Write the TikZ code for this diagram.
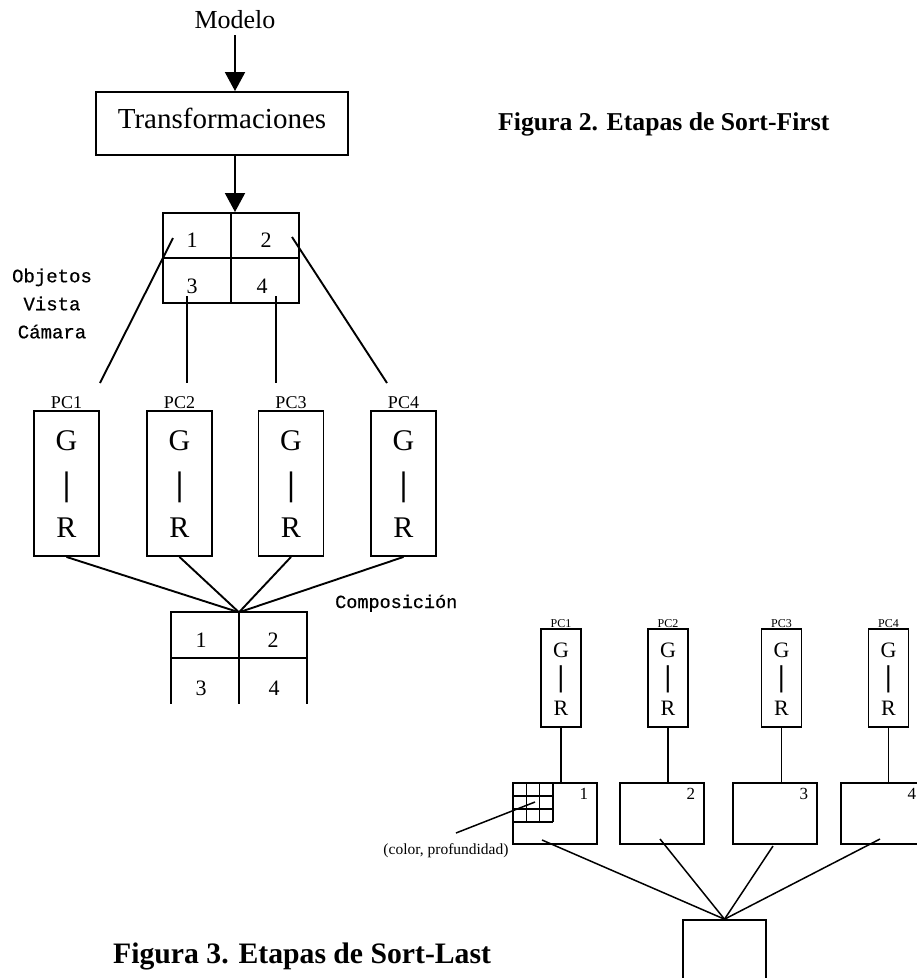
\documentclass[tikz,border=0pt]{standalone}
\usepackage{fontspec}
\setmainfont{Liberation Serif}
\newfontfamily\monof[FakeBold=0.6]{Liberation Mono}
\usetikzlibrary{arrows.meta,calc}
\newcommand\fsz[1]{\fontsize{#1}{#1}\selectfont}
\begin{document}
\begin{tikzpicture}[x=1pt,y=-1pt,
  box/.style={draw, line width=1.9pt, inner sep=0pt},
  sbox/.style={draw, line width=1.6pt, inner sep=0pt},
  txt/.style={inner sep=0pt, anchor=base},
  conn/.style={line width=1.9pt},
  sconn/.style={line width=1.5pt},
  arr/.style={line width=1.9pt, -{Triangle[width=20pt,length=19pt]}},
]
\useasboundingbox (0,0) rectangle (917,978);
\clip (0,0) rectangle (917,978);

% ---------- Figure 2 ----------
\node[txt, font=\fsz{26}] (modelo) at (235,28) {Modelo};
\node[box, minimum width=252pt, minimum height=63pt, text height=20pt, text depth=11pt, font=\fsz{29}] (trans) at (222,123.5) {Transformaciones};
\node[box, minimum width=136pt, minimum height=90pt] (g) at (231,258) {};
\draw[conn] (g.north) -- (g.south);
\draw[conn] (g.west) -- (g.east);
\draw[arr] ([yshift=-7pt]modelo.south) -- (modelo.south |- trans.north);
\draw[arr] (trans.south -| modelo) -- (g.north -| modelo);

\node[txt, font=\fsz{22}] (g1) at (192,247) {1};
\node[txt, font=\fsz{22}] (g2) at (266,247) {2};
\node[txt, font=\fsz{22}] (g3) at (192,293) {3};
\node[txt, font=\fsz{22}] (g4) at (262,293) {4};

\node[inner sep=0pt, align=center, font=\monof\fontsize{19}{28}\selectfont] (obj) at (52,303.5) {Objetos\\Vista\\Cámara};

\coordinate (s1) at (173,238);
\coordinate (s2) at (292,237);
\coordinate (s3) at (187,296);
\coordinate (s4) at (276,296);
\coordinate (e1) at (100,383);
\coordinate (e2) at (187,383);
\coordinate (e3) at (276,383);
\coordinate (e4) at (387,383);
\draw[conn] (s1) -- (e1);
\draw[conn] (s3) -- (e2);
\draw[conn] (s4) -- (e3);
\draw[conn] (s2) -- (e4);

\node[inner sep=0pt, minimum width=136pt, minimum height=91pt] (comp) at (239,658) {};
\draw[conn] (comp.south west) -- (comp.north west) -- (comp.north east) -- (comp.south east);
\draw[conn] (comp.north) -- (comp.south);
\draw[conn] (comp.west) -- (comp.east);
\node[txt, font=\fsz{22}] (c1) at (201,647) {1};
\node[txt, font=\fsz{22}] (c2) at (273,647) {2};
\node[txt, font=\fsz{22}] (c3) at (201,695) {3};
\node[txt, font=\fsz{22}] (c4) at (274,695) {4};

\foreach \i/\x in {1/66.5, 2/179.5, 3/291, 4/403.5} {
  \node[box, minimum width=65pt, minimum height=145pt] (p\i) at (\x,483.5) {};
  \node[txt, font=\fsz{18}] (pl\i) at (\x,408) {PC\i};
  \node[txt, font=\fsz{30}] (pg\i) at (\x,450) {G};
  \node[inner sep=0pt, font=\bfseries\fsz{34}] (pb\i) at (\x,487.5) {|};
  \node[txt, font=\fsz{30}] (pr\i) at (\x,537) {R};
  \draw[conn] (p\i.south) -- (comp.north);
}

\node[txt, anchor=base west, font=\monof\fsz{18.5}] (compl) at (335,608) {Composición};

\node[inner sep=0pt, anchor=base west, font=\bfseries\fsz{25.7}] (fig2) at (498,130) {Figura 2. Etapas de Sort-First};

% ---------- Figure 3 ----------
\foreach \i/\x/\fx in {1/561/555, 2/668/662, 3/781.5/775, 4/888.5/883} {
  \node[sbox, minimum width=40pt, minimum height=98pt] (q\i) at (\x,678) {};
  \node[txt, font=\fsz{12}] (ql\i) at (\x,627) {PC\i};
  \node[txt, font=\fsz{22}] (qg\i) at (\x,657) {G};
  \node[inner sep=0pt, font=\bfseries\fsz{30}] (qb\i) at (\x,679.5) {|};
  \node[txt, font=\fsz{22}] (qr\i) at (\x,715) {R};
  \node[sbox, minimum width=84pt, minimum height=61pt] (f\i) at (\fx,813.5) {};
  \draw[sconn] (q\i.south) -- (q\i.south |- f\i.north);
  \node[txt, font=\fsz{17}] (fn\i) at ($(f\i.north east)+(-14,17)$) {\i};
}

% small grid in frame 1
\foreach \x in {526.3,539.7,553} \draw[sconn] (\x,783) -- (\x,822);
\foreach \y in {796,809,822} \draw[sconn] (513,\y) -- (553,\y);

\node[txt, font=\fsz{15.5}] (cp) at (446,854) {(color, profundidad)};
\coordinate (cpa) at (456,833);
\coordinate (cpb) at (535,802);
\draw[sconn] (cpa) -- (cpb);

\node[sbox, minimum width=83pt, minimum height=80pt] (bb) at (724.5,960) {};
\coordinate (b1) at (542,840);
\coordinate (b2) at (660,839);
\coordinate (b3) at (773,846);
\coordinate (b4) at (880,839);
\foreach \j in {1,2,3,4} \draw[sconn] (b\j) -- (bb.north);

\node[inner sep=0pt, anchor=base west, font=\bfseries\fsz{29.7}] (fig3) at (113,963) {Figura 3. Etapas de Sort-Last};
\end{tikzpicture}
\end{document}
